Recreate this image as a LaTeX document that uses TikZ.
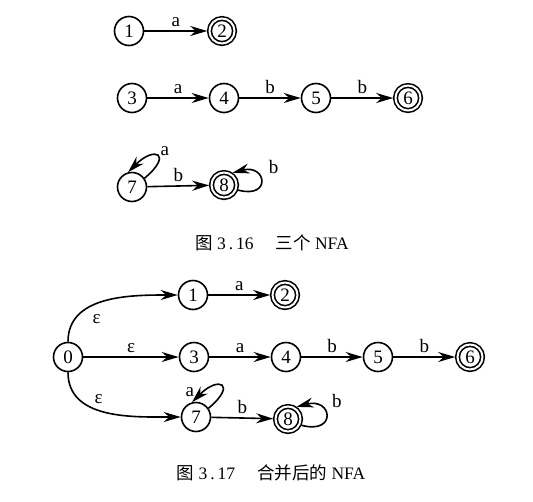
\documentclass[tikz,border=0pt]{standalone}
\usepackage{fontspec}
\setmainfont{Liberation Serif}
\newfontfamily\cjk{Noto Sans CJK SC}
\usetikzlibrary{arrows.meta,positioning}

\begin{document}
\begin{tikzpicture}[
    x=1pt, y=-1pt,
    node distance=92pt,
    font=\fontsize{19}{21}\selectfont,
    nstate/.style={circle, draw, line width=1.6pt, minimum size=29pt, inner sep=0pt},
    nfinal/.style={nstate, double, double distance=2pt, minimum size=25pt, outer sep=2.3pt},
    arrow/.style={line width=1.6pt, ->, >={Stealth[length=17pt,width=10pt]}},
    caption/.style={font=\fontsize{17.5}{20}\selectfont}
]
\useasboundingbox (0,0) rectangle (533,501);

% Three separate NFAs
\node[nstate] (s1) at (129,31) {1};
\node[nfinal, right of=s1, xshift=1pt] (s2) {2};

\node[nstate] (s3) at (132,98) {3};
\node[nstate, right of=s3] (s4) {4};
\node[nstate, right of=s4] (s5) {5};
\node[nfinal, right of=s5] (s6) {6};

\node[nstate] (s7) at (132,187) {7};
\node[nfinal, right of=s7, yshift=2pt] (s8) {8};

\draw[arrow] (s1) -- (s2) node[midway, above] {a};
\draw[arrow] (s3) -- (s4) node[midway, above] {a};
\draw[arrow] (s4) -- (s5) node[midway, above] {b};
\draw[arrow] (s5) -- (s6) node[midway, above] {b};
\draw[arrow] (s7) -- (s8) node[midway, above] {b};
\draw[arrow] (s7.35) to[out=40, in=45, looseness=5.5] node[pos=0.4, above right, inner sep=1pt] {a} (s7.105);
\draw[arrow] (s8.-20) to[out=-15, in=15, looseness=5] node[pos=0.6, above right, xshift=6pt] {b} (s8.55);

\node[caption] (cap_top) at (272,243) {{\cjk 图}\ 3\,.\,16\hskip 22pt{\cjk 三个} NFA};

% Merged NFA
\node[nstate] (m0) at (68,357) {0};
\node[nstate, right of=m0, xshift=34pt] (m3) {3};
\node[nstate, right of=m3] (m4) {4};
\node[nstate, right of=m4] (m5) {5};
\node[nfinal, right of=m5] (m6) {6};
\node[nstate] (m1) at (193,295) {1};
\node[nfinal, right of=m1] (m2) {2};
\node[nstate] (m7) at (196,417) {7};
\node[nfinal, right of=m7, yshift=-2pt] (m8) {8};

\draw[arrow] (m0) to[out=90, in=180] node[pos=0.3, below right, inner sep=3pt, xshift=6pt] {ε} (m1);
\draw[arrow] (m0) -- (m3) node[midway, above] {ε};
\draw[arrow] (m0) to[out=-90, in=180] node[pos=0.3, right, xshift=7pt, yshift=4pt] {ε} (m7);
\draw[arrow] (m1) -- (m2) node[midway, above] {a};
\draw[arrow] (m3) -- (m4) node[midway, above] {a};
\draw[arrow] (m4) -- (m5) node[midway, above] {b};
\draw[arrow] (m5) -- (m6) node[midway, above] {b};
\draw[arrow] (m7) -- (m8) node[midway, above] {b};
\draw[arrow] (m7.35) to[out=40, in=45, looseness=5.5] node[pos=0.95, anchor=south east, inner sep=1pt] {a} (m7.105);
\draw[arrow] (m8.-25) to[out=-15, in=15, looseness=5] node[pos=0.6, above right, xshift=4pt] {b} (m8.55);

\node[caption] (cap_bottom) at (271,473) {{\cjk 图}\ 3\,.\,17\hskip 22pt{\cjk 合并后的} NFA};

\end{tikzpicture}
\end{document}
